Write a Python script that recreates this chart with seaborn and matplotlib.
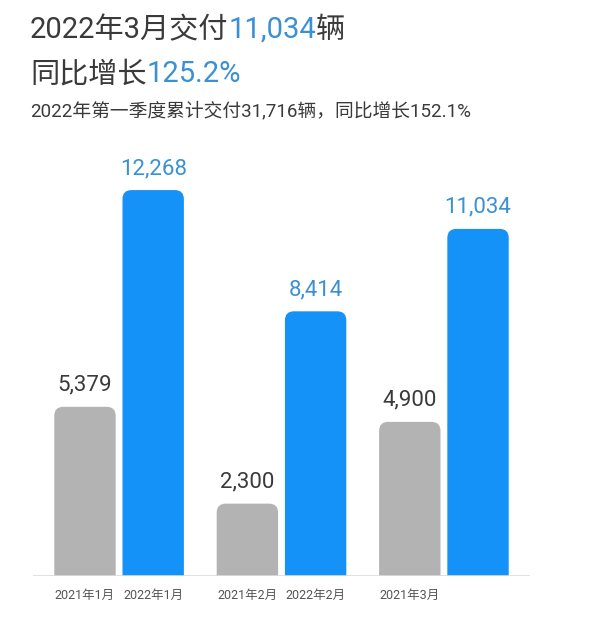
import pandas as pd
import matplotlib
matplotlib.use("Agg")
import matplotlib.pyplot as plt
import seaborn as sns
from matplotlib.patches import FancyBboxPatch

# data
months = ["1月", "2月", "3月"]
sales_2021 = [5379, 2300, 4900]
sales_2022 = [12268, 8414, 11034]
tick_labels = ["2021年1月", "2022年1月", "2021年2月", "2022年2月", "2021年3月", ""]

GRAY = "#b3b3b3"
BLUE = "#1592f7"
BLUE_TXT = "#3a90d4"
DARK = "#3a3a3a"

sns.set_theme(style="white")
plt.rcParams["font.family"] = ["Roboto", "Noto Sans CJK SC", "DejaVu Sans"]

df = pd.DataFrame({
    "month": months * 2,
    "year": ["2021"] * 3 + ["2022"] * 3,
    "sales": sales_2021 + sales_2022,
})

fig = plt.figure(figsize=(6, 6.2), dpi=100)
ax = fig.add_axes([33 / 600, 44 / 620, 497 / 600, 436 / 620])

sns.barplot(data=df, x="month", y="sales", hue="year", palette=[GRAY, BLUE],
            width=0.84, gap=0.1, legend=False, ax=ax)

ax.set_xlim(-0.53, 2.53)
ax.set_ylim(0, 13860)

# rounded tops: replace each bar by a rounded box that runs below the baseline
x_per_px = 3.06 / 497
y_per_px = 13860 / 436
r = 9 * x_per_px
for cont, col in zip(ax.containers, [GRAY, BLUE]):
    for p in cont.patches:
        p.set_visible(False)
        x0, w, h = p.get_x(), p.get_width(), p.get_height()
        box = FancyBboxPatch((x0, -800), w, h + 800,
                             boxstyle=f"round,pad=0,rounding_size={r}",
                             mutation_aspect=y_per_px / x_per_px,
                             facecolor=col, edgecolor="none", zorder=2)
        ax.add_patch(box)
    ax.bar_label(cont, labels=[f"{v:,.0f}" for v in cont.datavalues],
                 padding=8, fontsize=16,
                 color=DARK if col == GRAY else BLUE_TXT)

ax.axhline(0, color="#dcdcdc", lw=1.2, zorder=3)

xt = []
for cont in ax.containers:
    for p in cont.patches:
        xt.append(p.get_x() + p.get_width() / 2)
order = sorted(range(len(xt)), key=lambda i: xt[i])
ax.set_xticks([xt[i] for i in order])
ax.set_xticklabels(tick_labels, fontsize=9, color="#555555")
ax.tick_params(axis="x", length=0, pad=9)
ax.set_yticks([])
ax.set_xlabel("")
ax.set_ylabel("")
for s in ax.spines.values():
    s.set_visible(False)


def colored_line(parts, x, y, size):
    t = fig.text(x, y, parts[0][0], color=parts[0][1], fontsize=size, va="bottom")
    for txt, c in parts[1:]:
        t = ax.annotate(txt, xy=(1, 0), xycoords=t, va="bottom", ha="left",
                        color=c, fontsize=size, annotation_clip=False)


colored_line([("2022年3月交付", DARK), ("11,034", BLUE_TXT), ("辆", DARK)],
             30 / 600, 1 - 44 / 620, 21)
colored_line([("同比增长", DARK), ("125.2%", BLUE_TXT)], 30 / 600, 1 - 88 / 620, 21)
fig.text(30 / 600, 1 - 120 / 620, "2022年第一季度累计交付31,716辆，同比增长152.1%",
         color=DARK, fontsize=13.5, va="bottom")

fig.savefig("out.png", dpi=100, facecolor="white")
